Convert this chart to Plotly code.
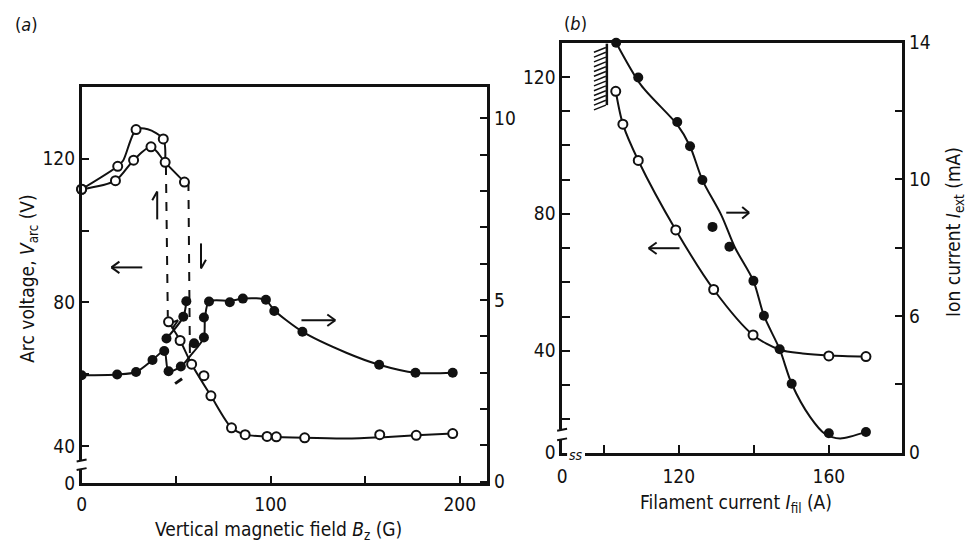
import plotly.graph_objects as go

W, H = 968, 555

# ---------------- Panel (a): arc voltage & ion current vs B_z ----------------
# Open circles: arc voltage (V), left axis
a_vA_B = [0, 17.9, 27.5, 36.7, 44.2, 54.4]
a_vA_V = [111.5, 113.9, 119.6, 123.3, 119.0, 113.5]
a_vB_B = [0, 19.1, 28.8, 43.2]
a_vB_V = [111.5, 117.9, 128.1, 125.5]
a_vL_B = [46.0, 52.1, 58.2, 64.7, 68.4, 79.3, 86.5, 98.1, 103.0, 118.0, 157.7, 177.0, 196.3]
a_vL_V = [74.6, 69.4, 62.8, 59.6, 54.0, 45.1, 43.2, 42.7, 42.6, 42.3, 43.2, 43.0, 43.5]
# hand-drawn curves through the open circles
a_cA_B = [0, 17.9, 27.5, 36.7, 44.2, 54.4]
a_cA_V = [111.5, 113.9, 119.6, 123.3, 119.0, 113.5]
a_cB_B = [0, 19.1, 22.0, 28.8, 35.0, 43.2, 44.2]
a_cB_V = [111.5, 117.9, 119.5, 128.1, 128.2, 125.5, 119.0]
a_cL_B = [46.0, 52.1, 58.2, 68.4, 79.3, 86.5, 98.1, 118.0, 140.0, 160.0, 177.0, 196.3]
a_cL_V = [74.6, 69.4, 62.8, 54.0, 45.1, 43.2, 42.7, 42.3, 42.1, 42.5, 43.0, 43.5]
# dashed jumps
a_d1_B = [44.6, 45.6]
a_d1_V = [118.0, 76.0]
a_d2_B = [56.5, 57.3]
a_d2_V = [113.5, 64.5]

# Filled circles: ion current (mA), right axis
a_i_B = [0, 18.8, 28.8, 37.5, 43.7, 44.9, 46.0, 52.5, 53.8, 55.4, 59.5, 64.7, 64.7,
         67.4, 78.4, 85.3, 97.5, 101.9, 116.8, 157.4, 176.6, 196.3]
a_i_I = [2.93, 2.95, 3.02, 3.35, 3.6, 3.94, 3.04, 3.17, 4.54, 4.97, 3.81, 3.97, 4.52,
         4.96, 4.94, 5.04, 5.01, 4.70, 4.13, 3.22, 3.0, 3.0]
a_ci1_B = [0, 18.8, 28.8, 37.5, 43.7, 46.0, 52.5, 58.0, 62.0, 64.7, 65.3, 67.4, 78.4,
           85.3, 92.0, 97.5, 101.9, 116.8, 140.0, 157.4, 176.6, 196.3]
a_ci1_I = [2.93, 2.95, 3.02, 3.35, 3.6, 3.04, 3.17, 3.5, 3.75, 3.97, 4.52, 4.96, 4.98,
           5.04, 5.05, 5.0, 4.72, 4.13, 3.55, 3.22, 3.0, 3.0]
a_ci2_B = [44.9, 53.8, 55.4]
a_ci2_I = [3.94, 4.54, 4.97]

# ---------------- Panel (b): vs filament current ----------------
b_v_I = [103.2, 105.1, 109.2, 119.2, 129.3, 139.8, 160.0, 169.9]
b_v_V = [115.8, 106.2, 95.6, 75.3, 57.9, 44.6, 38.5, 38.3]
b_cv_I = [103.2, 105.1, 109.2, 119.2, 129.3, 139.8, 146.9, 153.0, 160.0, 169.9]
b_cv_V = [115.8, 106.2, 95.6, 75.3, 57.9, 44.6, 40.3, 39.2, 38.6, 38.3]

b_i_I = [103.3, 109.2, 119.6, 123.0, 126.3, 129.0, 133.5, 139.9, 142.7, 146.9, 150.1, 160.0, 169.9]
b_i_A = [14.0, 12.98, 11.68, 10.97, 9.98, 8.61, 8.03, 7.03, 6.01, 5.03, 4.02, 2.57, 2.61]
b_ci_I = [103.3, 110.0, 119.6, 123.0, 126.3, 131.4, 135.0, 139.9, 142.7, 146.9, 150.1,
          155.0, 159.0, 163.0, 169.9]
b_ci_A = [14.0, 12.75, 11.6, 10.97, 9.98, 8.94, 8.0, 7.03, 6.01, 5.03, 4.02,
          3.05, 2.55, 2.42, 2.61]

# tick labels
a_x_ticks = [0, 50, 100, 150, 200]
a_x_text = ["0", "", "100", "", "200"]
a_yl_ticks = [29.6, 40, 60, 80, 100, 120]
a_yl_text = ["0", "40", "", "80", "", "120"]
a_yr_ticks = list(range(0, 11))
a_yr_text = ["0", "", "", "", "", "5", "", "", "", "", "10"]
b_x_ticks = [88.9, 100, 120, 140, 160]
b_x_text = ["0", "", "120", "", "160"]
b_yl_ticks = [10.2, 20, 30, 40, 50, 60, 70, 80, 90, 100, 110, 120]
b_yl_text = ["0", "", "", "40", "", "", "", "80", "", "", "", "120"]
b_yr_ticks = [2, 4, 6, 8, 10, 12, 14]
b_yr_text = ["0", "", "6", "", "10", "", "14"]

FONT = "DejaVu Sans Condensed, Liberation Sans, sans-serif"
BLACK = "#111111"


def px(x):
    return x / W


def py(y):
    return 1 - y / H


fig = go.Figure()

OPEN = dict(symbol="circle", size=9, color="white", line=dict(width=2, color=BLACK))
FILL = dict(symbol="circle", size=10, color=BLACK, line=dict(width=0))
LINE = dict(color=BLACK, width=2, shape="spline", smoothing=0.8)

# panel (a) curves
for xs, ys in [(a_cA_B, a_cA_V), (a_cB_B, a_cB_V), (a_cL_B, a_cL_V)]:
    fig.add_trace(go.Scatter(x=xs, y=ys, mode="lines", line=LINE, xaxis="x", yaxis="y"))
for xs, ys in [(a_d1_B, a_d1_V), (a_d2_B, a_d2_V)]:
    fig.add_trace(go.Scatter(x=xs, y=ys, mode="lines",
                             line=dict(color=BLACK, width=2, dash="dash"), xaxis="x", yaxis="y"))
for xs, ys in [(a_ci1_B, a_ci1_I), (a_ci2_B, a_ci2_I)]:
    fig.add_trace(go.Scatter(x=xs, y=ys, mode="lines", line=LINE, xaxis="x", yaxis="y2"))
fig.add_trace(go.Scatter(x=a_i_B, y=a_i_I, mode="markers", marker=FILL, xaxis="x", yaxis="y2"))
for xs, ys in [(a_vA_B, a_vA_V), (a_vB_B, a_vB_V), (a_vL_B, a_vL_V)]:
    fig.add_trace(go.Scatter(x=xs, y=ys, mode="markers", marker=OPEN, xaxis="x", yaxis="y",
                             cliponaxis=False))

# panel (b) curves
fig.add_trace(go.Scatter(x=b_cv_I, y=b_cv_V, mode="lines", line=LINE, xaxis="x2", yaxis="y3"))
fig.add_trace(go.Scatter(x=b_ci_I, y=b_ci_A, mode="lines", line=LINE, xaxis="x2", yaxis="y4"))
fig.add_trace(go.Scatter(x=b_i_I, y=b_i_A, mode="markers", marker=FILL, xaxis="x2", yaxis="y4",
                         cliponaxis=False))
fig.add_trace(go.Scatter(x=b_v_I, y=b_v_V, mode="markers", marker=OPEN, xaxis="x2", yaxis="y3"))

tickfont = dict(family=FONT, size=19, color=BLACK)
common = dict(showgrid=False, zeroline=False, showline=True, linecolor=BLACK, linewidth=2.5,
              ticks="inside", ticklen=8, tickwidth=2, tickcolor=BLACK, tickfont=tickfont,
              tickmode="array")

fig.update_layout(
    width=W, height=H, margin=dict(l=0, r=0, t=0, b=0),
    paper_bgcolor="white", plot_bgcolor="white", showlegend=False,
    xaxis=dict(common, domain=[px(77), px(485)], range=[0, 214.7], anchor="y",
               tickvals=a_x_ticks, ticktext=a_x_text, mirror=True, ticklabelstandoff=2),
    yaxis=dict(common, domain=[py(492), py(79)], range=[29.6, 140], anchor="x",
               tickvals=a_yl_ticks, ticktext=a_yl_text),
    yaxis2=dict(common, overlaying="y", side="right", anchor="x", range=[-0.05, 10.87],
                tickvals=a_yr_ticks, ticktext=a_yr_text),
    xaxis2=dict(common, domain=[px(560), px(902)], range=[88.9, 179.6], anchor="y3",
                tickvals=b_x_ticks, ticktext=b_x_text, mirror=True, ticklabelstandoff=5),
    yaxis3=dict(common, domain=[py(460), py(33)], range=[10.2, 130], anchor="x2",
                tickvals=b_yl_ticks, ticktext=b_yl_text),
    yaxis4=dict(common, overlaying="y3", side="right", anchor="x2", range=[2, 14],
                tickvals=b_yr_ticks, ticktext=b_yr_text),
)

shapes = []


def seg(x0, y0, x1, y1, w=2, dash=None):
    shapes.append(dict(type="line", xref="paper", yref="paper",
                       x0=px(x0), y0=py(y0), x1=px(x1), y1=py(y1),
                       line=dict(color=BLACK, width=w, dash=dash), layer="above"))


def white(x0, y0, x1, y1):
    shapes.append(dict(type="rect", xref="paper", yref="paper",
                       x0=px(x0), y0=py(y0), x1=px(x1), y1=py(y1),
                       fillcolor="white", line=dict(width=0), layer="above"))


# axis breaks
white(72, 468, 83, 477)
seg(72, 469, 82, 467)
seg(72, 478, 82, 476)
white(555, 436, 566, 446)
seg(555, 437, 565, 435)
seg(555, 447, 565, 445)
white(565, 455, 583, 465)

# arrows panel (a)
seg(107, 267, 138, 267)
seg(107, 267, 115, 261)
seg(107, 267, 115, 273)
seg(298, 322, 332, 322)
seg(332, 322, 324, 316)
seg(332, 322, 324, 328)
seg(153, 188, 153, 217)
seg(153, 188, 148, 197)
seg(197, 242, 197, 268)
seg(197, 268, 202, 259)
seg(168, 331, 174, 322)
seg(174, 322, 169, 324)
seg(171, 388, 178, 383, w=3)
# arrows panel (b)
seg(725, 210, 748, 210)
seg(748, 210, 741, 204)
seg(748, 210, 741, 216)
seg(647, 247, 678, 247)
seg(647, 247, 655, 241)
seg(647, 247, 655, 253)

# hatched wall in panel (b)
seg(605, 34, 605, 98, w=2.5)
for k in range(13):
    y = 38 + 5 * k
    seg(592, y + 5, 604, y, w=1.5)

fig.update_layout(shapes=shapes)

ann = []


def text(x, y, s, size=18, angle=0, xanchor="center"):
    ann.append(dict(x=px(x), y=py(y), xref="paper", yref="paper", text=s, showarrow=False,
                    textangle=angle, xanchor=xanchor, yanchor="middle",
                    font=dict(family=FONT, size=size, color=BLACK)))


text(22, 14, "(<i>a</i>)", size=18)
text(573, 13, "(<i>b</i>)", size=18)
text(275, 541, "Vertical magnetic field <i>B</i><sub>z</sub> (G)", size=19)
text(735, 513, "Filament current <i>I</i><sub>fil</sub> (A)", size=19)
text(24, 278, "Arc voltage, <i>V</i><sub>arc</sub> (V)", size=19, angle=-90)
text(955, 230, "Ion current <i>I</i><sub>ext</sub> (mA)", size=19, angle=-90)
text(574, 462, "<i>ss</i>", size=14)
fig.update_layout(annotations=ann)

fig.write_html("out.html")
